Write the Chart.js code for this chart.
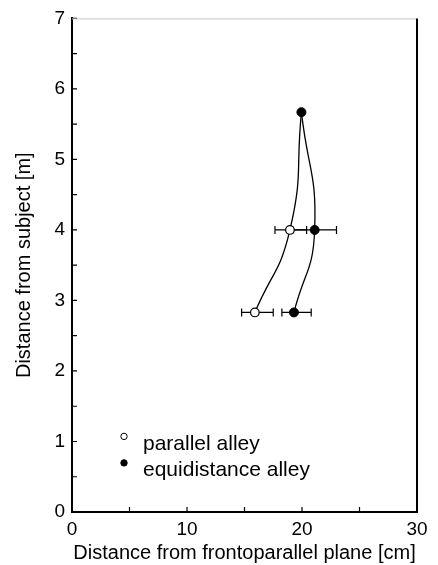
<!DOCTYPE html>
<html>
<head>
<meta charset="utf-8">
<script src="https://cdn.jsdelivr.net/npm/chart.js@4"></script>
<style>
  html, body { margin: 0; padding: 0; background: #fff; }
  #wrap { width: 438px; height: 565px; }
</style>
</head>
<body>
<div id="wrap"><canvas id="alley-chart"></canvas></div>
<script>
// valores
var parallelX = [15.9, 18.95];
var parallelY = [2.83, 4.0];
var parallelLo = [14.75, 17.65];
var parallelHi = [17.5, 20.4];

var equiX = [19.3, 21.1, 19.95];
var equiY = [2.83, 4.0, 5.67];
var equiLo = [18.25, 19.2, null];
var equiHi = [20.8, 23.0, null];

var seriesNames = ['parallel alley', 'equidistance alley'];
var xTitle = 'Distance from frontoparallel plane [cm]';
var yTitle = 'Distance from subject [m]';

function toPoints(xs, ys) {
    return xs.map(function (x, i) { return { x: x, y: ys[i] }; });
}

// la curva paralela termina en el punto superior comun
var parallelCurve = toPoints(parallelX, parallelY).concat([{ x: equiX[2], y: equiY[2] }]);
var equiCurve = toPoints(equiX, equiY);

Chart.defaults.font.family = 'Arial, "Liberation Sans", sans-serif';
Chart.defaults.color = '#000';

// barras de error horizontales
var errorBars = {
    id: 'errorBars',
    beforeDatasetsDraw: function (chart) {
        var x = chart.scales.x, y = chart.scales.y, ctx = chart.ctx;
        function bars(ys, lo, hi) {
            ys.forEach(function (v, i) {
                if (lo[i] == null) return;
                var py = y.getPixelForValue(v);
                var a = x.getPixelForValue(lo[i]), b = x.getPixelForValue(hi[i]);
                ctx.beginPath();
                ctx.moveTo(a, py); ctx.lineTo(b, py);
                ctx.moveTo(a, py - 4); ctx.lineTo(a, py + 4);
                ctx.moveTo(b, py - 4); ctx.lineTo(b, py + 4);
                ctx.stroke();
            });
        }
        ctx.save();
        ctx.strokeStyle = '#000';
        ctx.lineWidth = 1.2;
        bars(parallelY, parallelLo, parallelHi);
        bars(equiY, equiLo, equiHi);
        ctx.restore();
    }
};

// marco, marcas hacia dentro y leyenda
var frame = {
    id: 'frame',
    afterDraw: function (chart) {
        var ctx = chart.ctx, a = chart.chartArea;
        var x = chart.scales.x, y = chart.scales.y;
        ctx.save();
        ctx.strokeStyle = '#000';
        ctx.lineWidth = 1.2;
        ctx.beginPath();
        x.ticks.forEach(function (t) {
            var px = x.getPixelForValue(t.value);
            ctx.moveTo(px, a.bottom); ctx.lineTo(px, a.bottom - 5);
        });
        y.ticks.forEach(function (t) {
            var py = y.getPixelForValue(t.value);
            ctx.moveTo(a.left, py); ctx.lineTo(a.left + 5, py);
        });
        ctx.stroke();

        ctx.strokeStyle = '#c8c8c8';
        ctx.lineWidth = 1;
        ctx.beginPath();
        ctx.moveTo(a.left, a.top + 0.5); ctx.lineTo(a.right, a.top + 0.5);
        ctx.stroke();
        ctx.strokeStyle = '#000';
        ctx.lineWidth = 2;
        ctx.beginPath();
        ctx.moveTo(a.right, a.top); ctx.lineTo(a.right, a.bottom);
        ctx.stroke();

        // leyenda
        var lx = a.left + 52, ly = a.top + 418;
        ctx.font = '21px Arial, "Liberation Sans", sans-serif';
        ctx.fillStyle = '#000';
        ctx.textBaseline = 'alphabetic';
        seriesNames.forEach(function (name, i) {
            var cy = ly + i * 26.5;
            ctx.beginPath();
            ctx.arc(lx, cy, 3.2, 0, Math.PI * 2);
            ctx.fillStyle = i === 0 ? '#fff' : '#000';
            ctx.fill();
            ctx.lineWidth = 1;
            ctx.stroke();
            ctx.fillStyle = '#000';
            ctx.fillText(name, lx + 19, cy + 13.5);
        });
        ctx.restore();
    }
};

var ctx = document.getElementById('alley-chart').getContext('2d');
var alleyChart = new Chart(ctx, {
    type: 'scatter',
    data: {
        datasets: [{
            label: seriesNames[0],
            data: toPoints(parallelX, parallelY),
            pointRadius: 4.3,
            pointBackgroundColor: '#fff',
            pointBorderColor: '#000',
            pointBorderWidth: 1.2,
            order: 0
        }, {
            label: seriesNames[1],
            data: equiCurve,
            pointRadius: 4.5,
            pointBackgroundColor: '#000',
            pointBorderColor: '#000',
            pointBorderWidth: 1,
            order: 0
        }, {
            data: parallelCurve,
            showLine: true,
            tension: 0.5,
            borderColor: '#000',
            borderWidth: 1.3,
            pointRadius: 0,
            order: 1
        }, {
            data: equiCurve,
            showLine: true,
            tension: 0.5,
            borderColor: '#000',
            borderWidth: 1.3,
            pointRadius: 0,
            order: 1
        }]
    },
    options: {
        responsive: true,
        maintainAspectRatio: false,
        animation: false,
        layout: { padding: { top: 15, right: 21, left: 0, bottom: 0 } },
        plugins: {
            legend: { display: false },
            tooltip: { enabled: false }
        },
        scales: {
            x: {
                min: 0,
                max: 30,
                afterFit: function (s) { s.height = 53; },
                grid: { display: true, drawOnChartArea: false, drawTicks: false },
                border: { display: true, color: '#000', width: 2 },
                ticks: {
                    stepSize: 5,
                    autoSkip: false,
                    maxRotation: 0,
                    padding: 6,
                    font: { size: 19 },
                    callback: function (v) { return v % 10 === 0 ? String(v) : ''; }
                },
                title: {
                    display: true,
                    text: xTitle,
                    font: { size: 20 },
                    padding: { top: 0, bottom: 0 }
                }
            },
            y: {
                min: 0,
                max: 7,
                afterFit: function (s) { s.width = 72; },
                grid: { display: true, drawOnChartArea: false, drawTicks: false },
                border: { display: true, color: '#000', width: 2 },
                ticks: {
                    stepSize: 0.5,
                    autoSkip: false,
                    padding: 7,
                    font: { size: 19 },
                    callback: function (v) { return Number.isInteger(v) ? String(v) : ''; }
                },
                title: {
                    display: true,
                    text: yTitle,
                    font: { size: 20 },
                    padding: { top: 12, bottom: 0 }
                }
            }
        }
    },
    plugins: [errorBars, frame]
});
</script>
</body>
</html>
